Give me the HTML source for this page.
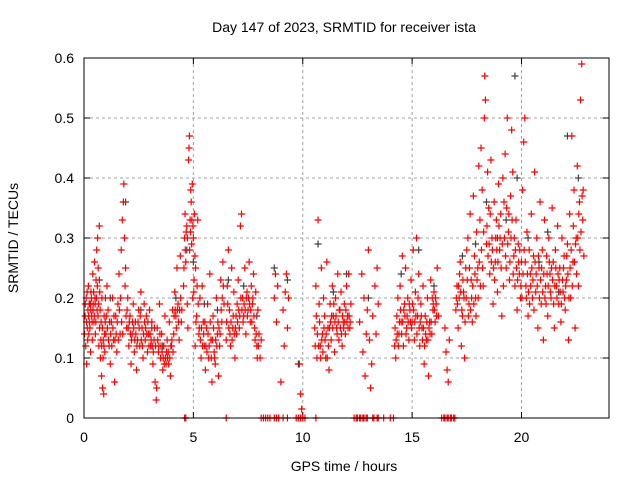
<!DOCTYPE html>
<html><head><meta charset="utf-8"><style>
body{margin:0;background:#fff;width:640px;height:480px;overflow:hidden}
svg{display:block;font-family:"Liberation Sans",sans-serif}
</style></head><body>
<svg id="chart" width="640" height="480" viewBox="0 0 640 480">
<rect width="640" height="480" fill="#fff"/>
<text x="344" y="32" font-size="14" text-anchor="middle" fill="#000">Day 147 of 2023, SRMTID for receiver ista</text>
<g id="grid"></g>
<g id="ticks"></g>
<g id="blk"></g>
<g id="red"></g>
<rect x="84" y="58" width="525" height="360" fill="none" stroke="#000" stroke-width="1"/>
<text transform="translate(18,238) rotate(-90)" font-size="14" text-anchor="middle">SRMTID / TECUs</text>
<text x="344" y="471" font-size="14" text-anchor="middle">GPS time / hours</text>
</svg>
<script>
const xTicks=[0,5,10,15,20];
const yTicks=[0,0.1,0.2,0.3,0.4,0.5,0.6];
const yTickLabels=["0","0.1","0.2","0.3","0.4","0.5","0.6"];
const redPts=[
[0.05,0.17],[0.08,0.12],[0.1,0.2],[0.12,0.09],[0.15,0.15],[0.18,0.18],[0.2,0.22],[0.22,0.14],[0.25,0.16],[0.28,0.19],[0.3,0.11],[0.32,0.21],[0.35,0.17],[0.38,0.13],[0.4,0.24],[0.42,0.19],[0.45,0.16],[0.48,0.26],[0.5,0.2],[0.52,0.14],[0.55,0.23],[0.58,0.28],[0.6,0.18],[0.62,0.3],[0.65,0.25],[0.68,0.12],[0.7,0.32],[0.72,0.21],[0.75,0.1],[0.78,0.16],[0.8,0.07],[0.82,0.2],[0.85,0.05],[0.88,0.13],[0.9,0.04],[0.92,0.17],[0.95,0.11],[0.98,0.2],
[1.0,0.14],[1.05,0.22],[1.1,0.18],[1.15,0.12],[1.2,0.09],[1.25,0.16],[1.3,0.2],[1.35,0.13],[1.4,0.06],[1.45,0.17],[1.5,0.11],[1.55,0.19],[1.6,0.24],[1.65,0.14],[1.7,0.28],[1.75,0.33],[1.8,0.36],[1.82,0.39],[1.85,0.3],[1.88,0.22],[1.9,0.25],[1.95,0.15],[2.0,0.2],[2.05,0.12],[2.1,0.17],[2.15,0.09],[2.2,0.14],[2.25,0.19],[2.3,0.11],[2.35,0.16],[2.4,0.08],[2.45,0.13],[2.5,0.18],[2.55,0.12],[2.6,0.21],[2.65,0.15],[2.7,0.1],[2.75,0.19],[2.8,0.13],[2.85,0.17],[2.9,0.11],[2.95,0.14],
[3.0,0.18],[3.05,0.12],[3.1,0.16],[3.15,0.09],[3.2,0.13],[3.25,0.06],[3.3,0.03],[3.32,0.05],[3.35,0.15],[3.4,0.11],[3.45,0.19],[3.5,0.1],[3.55,0.14],[3.6,0.08],[3.65,0.12],[3.7,0.17],[3.75,0.09],[3.8,0.13],[3.85,0.11],[3.9,0.16],[3.95,0.07],[4.0,0.12],[4.05,0.18],[4.1,0.14],[4.15,0.21],[4.2,0.17],[4.25,0.25],[4.3,0.19],[4.35,0.13],[4.4,0.27],[4.45,0.16],
[4.55,0.22],[4.6,0.3],[4.62,0.34],[4.65,0.26],[4.7,0.32],[4.72,0.19],[4.75,0.15],[4.78,0.43],[4.8,0.45],[4.82,0.47],[4.85,0.33],[4.88,0.38],[4.9,0.36],[4.92,0.29],[4.95,0.39],[4.98,0.32],[5.0,0.3],[5.02,0.21],[5.05,0.34],[5.08,0.12],[5.1,0.25],[5.15,0.17],[5.2,0.33],[5.25,0.14],[5.3,0.2],[5.35,0.1],[5.4,0.22],[5.45,0.16],[5.5,0.12],[5.55,0.08],[5.6,0.15],[5.65,0.19],[5.7,0.1],[5.75,0.24],[5.8,0.13],[5.85,0.06],[5.9,0.17],[5.95,0.11],[6.0,0.09],[6.05,0.2],[6.1,0.14],[6.15,0.07],[6.2,0.12],[6.25,0.23],[6.3,0.16],[6.35,0.26],[6.4,0.19],
[6.5,0.13],[6.55,0.22],[6.6,0.28],[6.65,0.18],[6.7,0.12],[6.75,0.25],[6.8,0.15],[6.85,0.21],[6.9,0.1],[6.95,0.17],[7.0,0.19],[7.05,0.23],[7.1,0.15],[7.15,0.32],[7.2,0.34],[7.25,0.2],[7.3,0.17],[7.35,0.25],[7.4,0.14],[7.45,0.21],[7.5,0.18],[7.55,0.26],[7.6,0.16],[7.65,0.22],[7.7,0.19],[7.75,0.24],[7.8,0.15],[7.85,0.21],[7.9,0.12],[7.95,0.18],[8.0,0.14],[8.05,0.1],[8.1,0.13],
[8.7,0.2],[8.75,0.24],[8.8,0.16],[8.85,0.22],[9.1,0.18],[9.15,0.12],[9.2,0.21],[9.25,0.24],[9.3,0.15],[9.35,0.2],[9.0,0.06],[9.85,0.09],[9.9,0.04],[9.95,0.015],
[10.55,0.15],[10.6,0.22],[10.65,0.1],[10.7,0.33],[10.75,0.19],[10.8,0.12],[10.85,0.25],[10.9,0.14],[10.95,0.2],[11.0,0.17],[11.05,0.1],[11.1,0.26],[11.15,0.15],[11.2,0.08],[11.25,0.19],[11.3,0.13],[11.35,0.22],[11.4,0.17],[11.45,0.11],[11.5,0.2],[11.55,0.15],[11.6,0.24],[11.65,0.13],[11.7,0.18],[11.75,0.21],[11.8,0.12],[11.85,0.16],[11.9,0.19],[11.95,0.14],[12.0,0.22],[12.05,0.17],[12.1,0.24],[12.15,0.15],[12.2,0.19],
[12.6,0.16],[12.7,0.24],[12.75,0.11],[12.8,0.2],[12.85,0.07],[12.9,0.14],[12.95,0.18],[13.0,0.28],[13.05,0.13],[13.1,0.05],[13.15,0.09],[13.2,0.17],[13.3,0.22],[13.35,0.14],[13.4,0.25],[13.45,0.19],
[14.2,0.12],[14.25,0.1],[14.3,0.17],[14.35,0.2],[14.4,0.14],[14.45,0.22],[14.5,0.16],[14.55,0.27],[14.6,0.12],[14.65,0.19],[14.7,0.25],[14.75,0.15],[14.8,0.2],[14.85,0.13],[14.9,0.18],[14.95,0.23],[15.0,0.16],[15.05,0.28],[15.1,0.13],[15.15,0.21],[15.2,0.3],[15.25,0.17],[15.3,0.24],[15.35,0.12],[15.4,0.19],[15.45,0.15],[15.5,0.22],[15.55,0.09],[15.6,0.17],[15.65,0.13],[15.7,0.2],[15.75,0.07],[15.8,0.16],[15.85,0.23],[15.9,0.14],[15.95,0.18],[16.0,0.21],[16.05,0.16],[16.1,0.19],[16.15,0.25],[16.2,0.17],
[16.5,0.15],[16.55,0.11],[16.6,0.08],[16.65,0.06],[16.7,0.13],
[17.0,0.18],[17.05,0.22],[17.1,0.15],[17.15,0.2],[17.2,0.26],[17.25,0.12],[17.3,0.17],[17.35,0.21],[17.4,0.1],[17.45,0.25],[17.5,0.28],[17.55,0.3],[17.6,0.19],[17.65,0.34],[17.7,0.23],[17.75,0.16],[17.8,0.37],[17.85,0.27],[17.9,0.2],[17.95,0.31],[18.0,0.25],[18.05,0.42],[18.1,0.33],[18.15,0.45],[18.2,0.38],[18.25,0.22],[18.3,0.5],[18.32,0.57],[18.35,0.53],[18.4,0.29],[18.45,0.41],[18.5,0.35],[18.55,0.24],[18.6,0.43],[18.65,0.3],[18.7,0.19],[18.75,0.36],[18.8,0.26],[18.85,0.33],[18.9,0.21],[18.95,0.39],[19.0,0.28],[19.05,0.34],[19.1,0.17],[19.15,0.4],[19.2,0.36],[19.25,0.44],[19.3,0.25],[19.35,0.5],[19.4,0.31],[19.45,0.23],[19.5,0.37],[19.55,0.48],[19.6,0.41],[19.65,0.27],[19.7,0.22],[19.75,0.33],[19.8,0.18],[19.85,0.29],[19.9,0.24],[19.95,0.2],
[20.0,0.26],[20.05,0.38],[20.1,0.46],[20.15,0.5],[20.2,0.22],[20.25,0.31],[20.3,0.17],[20.35,0.28],[20.4,0.24],[20.45,0.34],[20.5,0.2],[20.55,0.27],[20.6,0.41],[20.65,0.21],[20.7,0.3],[20.75,0.15],[20.8,0.25],[20.85,0.36],[20.9,0.19],[20.95,0.28],[21.0,0.13],[21.05,0.33],[21.1,0.22],[21.15,0.27],[21.2,0.17],[21.25,0.3],[21.3,0.24],[21.35,0.2],[21.4,0.35],[21.45,0.26],[21.5,0.15],[21.55,0.28],[21.6,0.22],[21.65,0.32],[21.7,0.19],[21.75,0.25],[21.8,0.16],[21.85,0.3],[21.9,0.21],[21.95,0.27],[22.0,0.18],[22.05,0.23],[22.1,0.29],[22.15,0.13],[22.2,0.34],[22.25,0.2],[22.3,0.47],[22.35,0.26],[22.4,0.38],[22.45,0.15],[22.5,0.3],[22.55,0.42],[22.6,0.22],[22.65,0.36],[22.7,0.53],[22.75,0.59],[22.8,0.33],[22.85,0.27]
];
const redPts2=[
[0.02,0.14],[0.06,0.19],[0.11,0.16],[0.14,0.21],[0.17,0.13],[0.21,0.17],[0.24,0.19],[0.27,0.15],[0.31,0.18],[0.34,0.2],[0.37,0.16],[0.41,0.18],[0.44,0.21],[0.47,0.17],[0.51,0.19],[0.54,0.16],[0.57,0.2],[0.61,0.22],[0.64,0.17],[0.67,0.19],[0.71,0.15],[0.74,0.18],[0.77,0.13],[0.81,0.12],[0.84,0.15],[0.87,0.1],[0.91,0.12],[0.94,0.14],[0.97,0.16],
[1.02,0.17],[1.07,0.15],[1.12,0.13],[1.17,0.16],[1.22,0.14],[1.27,0.12],[1.32,0.15],[1.37,0.17],[1.42,0.13],[1.47,0.14],[1.52,0.16],[1.57,0.13],[1.62,0.18],[1.67,0.2],[1.72,0.16],[1.77,0.14],[1.92,0.17],[1.97,0.18],[2.02,0.15],[2.07,0.16],[2.12,0.14],[2.17,0.13],[2.22,0.16],[2.27,0.15],[2.32,0.13],[2.37,0.14],[2.42,0.12],[2.47,0.16],[2.52,0.15],[2.57,0.17],[2.62,0.13],[2.67,0.12],[2.72,0.14],[2.77,0.16],[2.82,0.15],[2.87,0.14],[2.92,0.16],[2.97,0.12],
[3.02,0.14],[3.07,0.13],[3.12,0.12],[3.17,0.11],[3.22,0.15],[3.27,0.12],[3.37,0.13],[3.42,0.12],[3.47,0.14],[3.52,0.12],[3.57,0.11],[3.62,0.1],[3.67,0.09],[3.72,0.1],[3.77,0.11],[3.82,0.1],[3.87,0.09],[3.92,0.1],[3.97,0.12],[4.02,0.13],[4.07,0.11],[4.12,0.17],[4.17,0.18],[4.22,0.15],[4.27,0.18],[4.32,0.16],[4.37,0.18],[4.42,0.2],[4.47,0.18],
[4.57,0.25],[4.63,0.28],[4.67,0.31],[4.73,0.3],[4.83,0.28],[4.87,0.31],[4.93,0.33],[4.97,0.2],[5.03,0.23],[5.07,0.27],[5.12,0.16],[5.17,0.22],[5.22,0.19],[5.27,0.15],[5.32,0.13],[5.37,0.15],[5.42,0.12],[5.47,0.14],[5.52,0.16],[5.57,0.12],[5.62,0.11],[5.67,0.14],[5.72,0.12],[5.77,0.16],[5.82,0.1],[5.87,0.13],[5.92,0.15],[5.97,0.1],[6.02,0.13],[6.07,0.12],[6.12,0.16],[6.17,0.15],[6.22,0.14],[6.27,0.18],[6.32,0.2],[6.37,0.22],
[6.52,0.16],[6.57,0.19],[6.62,0.15],[6.67,0.14],[6.72,0.16],[6.77,0.13],[6.82,0.17],[6.87,0.14],[6.92,0.15],[6.97,0.14],[7.02,0.16],[7.07,0.18],[7.12,0.17],[7.17,0.2],[7.22,0.18],[7.27,0.16],[7.32,0.19],[7.37,0.18],[7.42,0.2],[7.47,0.17],[7.52,0.2],[7.57,0.19],[7.62,0.18],[7.67,0.16],[7.72,0.2],[7.77,0.17],[7.82,0.13],[7.87,0.14],[7.92,0.1],[7.97,0.12],
[10.57,0.12],[10.62,0.17],[10.67,0.14],[10.72,0.12],[10.77,0.16],[10.82,0.1],[10.87,0.13],[10.92,0.11],[10.97,0.15],[11.02,0.13],[11.07,0.14],[11.12,0.1],[11.17,0.12],[11.22,0.15],[11.27,0.16],[11.32,0.17],[11.37,0.15],[11.42,0.19],[11.47,0.16],[11.52,0.17],[11.57,0.14],[11.62,0.16],[11.67,0.18],[11.72,0.15],[11.77,0.14],[11.82,0.17],[11.87,0.15],[11.92,0.16],[11.97,0.18],[12.02,0.16],[12.07,0.15],[12.12,0.17],[12.17,0.16],
[14.22,0.15],[14.27,0.13],[14.32,0.14],[14.37,0.12],[14.42,0.16],[14.47,0.18],[14.52,0.14],[14.57,0.16],[14.62,0.18],[14.67,0.17],[14.72,0.14],[14.77,0.17],[14.82,0.16],[14.87,0.19],[14.92,0.16],[14.97,0.15],[15.02,0.19],[15.07,0.18],[15.12,0.16],[15.17,0.17],[15.22,0.14],[15.27,0.2],[15.32,0.15],[15.37,0.16],[15.42,0.17],[15.47,0.13],[15.52,0.15],[15.57,0.12],[15.62,0.14],[15.67,0.16],[15.72,0.13],[15.77,0.15],[15.82,0.14],[15.87,0.16],[15.92,0.2],[15.97,0.19],[16.02,0.18],[16.07,0.2],[16.12,0.17],
[17.02,0.2],[17.07,0.19],[17.12,0.22],[17.17,0.24],[17.22,0.21],[17.27,0.18],[17.32,0.23],[17.37,0.2],[17.42,0.16],[17.47,0.2],[17.52,0.23],[17.57,0.17],[17.62,0.25],[17.67,0.18],[17.72,0.2],[17.77,0.22],[17.82,0.19],[17.87,0.24],[17.92,0.17],[17.97,0.23],[18.02,0.2],[18.07,0.26],[18.12,0.22],[18.17,0.28],[18.22,0.25],[18.27,0.31],[18.42,0.32],[18.47,0.27],[18.52,0.29],[18.57,0.34],[18.62,0.26],[18.67,0.28],[18.72,0.25],[18.77,0.23],[18.82,0.3],[18.87,0.28],[18.92,0.26],[18.97,0.32],[19.02,0.3],[19.07,0.25],[19.12,0.29],[19.17,0.22],[19.22,0.3],[19.27,0.27],[19.32,0.35],[19.37,0.29],[19.42,0.34],[19.47,0.26],[19.52,0.3],[19.57,0.33],[19.62,0.24],[19.67,0.3],[19.72,0.28],[19.77,0.25],[19.82,0.23],[19.87,0.26],[19.92,0.28],[19.97,0.22],
[20.02,0.2],[20.07,0.24],[20.12,0.28],[20.17,0.26],[20.22,0.2],[20.27,0.24],[20.32,0.21],[20.37,0.19],[20.42,0.22],[20.47,0.25],[20.52,0.23],[20.57,0.18],[20.62,0.26],[20.67,0.24],[20.72,0.22],[20.77,0.27],[20.82,0.2],[20.87,0.23],[20.92,0.25],[20.97,0.21],[21.02,0.24],[21.07,0.2],[21.12,0.19],[21.17,0.24],[21.22,0.22],[21.27,0.26],[21.32,0.21],[21.37,0.25],[21.42,0.23],[21.47,0.19],[21.52,0.22],[21.57,0.25],[21.62,0.2],[21.67,0.24],[21.72,0.23],[21.77,0.21],[21.82,0.19],[21.87,0.23],[21.92,0.25],[21.97,0.2],[22.02,0.22],[22.07,0.27],[22.12,0.24],[22.17,0.2],[22.22,0.25],[22.27,0.28],[22.32,0.22],[22.37,0.32],[22.42,0.26],[22.47,0.29],[22.52,0.24],[22.57,0.3],[22.62,0.34],[22.67,0.28],[22.72,0.31],[22.77,0.37],[22.82,0.38]
];
const blackPts=[
[0.3,0.19],[0.7,0.23],[1.2,0.2],[1.9,0.36],[2.6,0.18],[3.1,0.15],[3.6,0.12],[4.2,0.2],[4.7,0.28],[5.0,0.26],[5.5,0.19],[6.1,0.18],[6.6,0.23],[7.3,0.22],[7.9,0.17],[8.7,0.25],[9.3,0.23],[9.8,0.09],[10.7,0.29],[11.4,0.21],[12.0,0.24],[13.0,0.2],[14.5,0.24],[15.3,0.28],[16.0,0.22],[17.3,0.27],[17.9,0.29],[18.4,0.36],[18.9,0.3],[19.3,0.33],[19.7,0.57],[19.8,0.4],[20.3,0.3],[20.8,0.26],[21.2,0.31],[21.7,0.21],[22.1,0.47],[22.6,0.4]
];
const zeroHours=[4.6,4.65,6.5,8.1,8.2,8.3,8.4,8.5,8.7,8.8,8.9,9.1,9.3,9.7,9.8,9.9,10.0,10.1,10.6,12.35,12.45,12.5,12.6,12.65,12.75,12.8,12.9,12.95,13.2,13.25,13.4,13.45,13.7,14.0,14.15,16.35,16.45,16.5,16.6,16.65,16.75,16.8,16.9,16.95];
const X=h=>84+h*525/24, Y=v=>418-v*600;
const NS="http://www.w3.org/2000/svg";
const grid=document.getElementById('grid'),ticks=document.getElementById('ticks');
function mk(t,a,p){const e=document.createElementNS(NS,t);for(const k in a)e.setAttribute(k,a[k]);p.appendChild(e);return e;}
xTicks.forEach(h=>{
 if(h>0){const g=mk('line',{x1:X(h),x2:X(h),y1:58,y2:418,stroke:'#a0a0a0','stroke-dasharray':'3,3'},grid);
 
 }
 mk('line',{x1:X(h),x2:X(h),y1:418,y2:412,stroke:'#000'},ticks);
 mk('line',{x1:X(h),x2:X(h),y1:58,y2:64,stroke:'#000'},ticks);
 const t=mk('text',{x:X(h),y:442,'font-size':14,'text-anchor':'middle'},ticks);t.textContent=h;
 
 
});
yTicks.forEach((v,i)=>{
 if(v>0&&v<0.6){const g=mk('line',{x1:84,x2:609,y1:Y(v),y2:Y(v),stroke:'#a0a0a0','stroke-dasharray':'3,3'},grid);
 
 }
 mk('line',{x1:84,x2:90,y1:Y(v),y2:Y(v),stroke:'#000'},ticks);
 mk('line',{x1:603,x2:609,y1:Y(v),y2:Y(v),stroke:'#000'},ticks);
 const t=mk('text',{x:74,y:Y(v)+5,'font-size':14,'text-anchor':'end'},ticks);t.textContent=yTickLabels[i];
 
 
});
function plus(h,v,col,g){const x=X(h),y=Y(v);
 const p=mk('path',{d:`M${x-3.5},${y}H${x+3.5}M${x},${y-3.5}V${y+3.5}`,stroke:col,'stroke-width':1.2,fill:'none'},g);
 
 }
const bg=document.getElementById('blk'),rg=document.getElementById('red');
blackPts.forEach(p=>plus(p[0],p[1],'#404040',bg));
redPts.forEach(p=>plus(p[0],p[1],'#ff0000',rg));
redPts2.forEach(p=>plus(p[0],p[1],'#ff0000',rg));
zeroHours.forEach(h=>plus(h,0,'#ff0000',rg));
</script>
</body></html>
